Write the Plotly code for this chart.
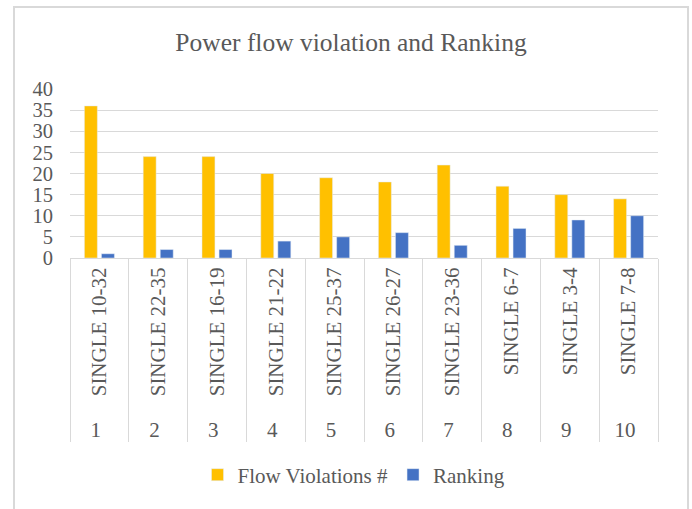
import plotly.graph_objects as go

ranks = ["1", "2", "3", "4", "5", "6", "7", "8", "9", "10"]
contingencies = ["SINGLE 10-32", "SINGLE 22-35", "SINGLE 16-19", "SINGLE 21-22", "SINGLE 25-37",
                 "SINGLE 26-27", "SINGLE 23-36", "SINGLE 6-7", "SINGLE 3-4", "SINGLE 7-8"]
flow_violations = [36, 24, 24, 20, 19, 18, 22, 17, 15, 14]
ranking = [1, 2, 2, 4, 5, 6, 3, 7, 9, 10]
y_ticks = [0, 5, 10, 15, 20, 25, 30, 35, 40]

FONT = "Liberation Serif"
GRAY = "#595959"

x = [ranks, contingencies]

fig = go.Figure()
fig.add_trace(go.Bar(x=x, y=flow_violations, name="Flow Violations #", marker_color="#FFC000"))
fig.add_trace(go.Bar(x=x, y=ranking, name="Ranking", marker_color="#4472C4"))

W, H = 692, 509
L, R, T, B = 70, 658, 89, 258
pw, ph = R - L, B - T

fig.update_layout(
    width=W, height=H,
    margin=dict(l=L, r=W - R, t=T, b=H - B),
    paper_bgcolor="white", plot_bgcolor="white",
    barmode="group", bargap=0.42, bargroupgap=0.24,
    font=dict(family=FONT, color=GRAY, size=21),
    title=dict(text="Power flow violation and Ranking", x=351 / W, xanchor="center",
               y=1 - 42 / H, yanchor="middle", font=dict(family=FONT, size=25.5, color=GRAY)),
    legend=dict(orientation="h", x=0.5 - 10 / pw, xanchor="center", y=(B - 475) / ph, yanchor="middle",
                font=dict(family=FONT, size=21, color=GRAY), itemwidth=30),
    showlegend=True,
)
fig.update_xaxes(
    type="multicategory", tickangle=-90,
    showline=True, linecolor="#d9d9d9", linewidth=1,
    showdividers=True, dividercolor="#d9d9d9", dividerwidth=1,
    ticks="", tickfont=dict(family=FONT, size=21, color=GRAY),
    showgrid=False,
)
fig.update_yaxes(
    range=[0, 40], tickvals=y_ticks, showgrid=True, gridcolor="#d9d9d9", gridwidth=1,
    zeroline=False, showline=False, ticks="", ticklabelstandoff=16,
    tickfont=dict(family=FONT, size=20.5, color=GRAY),
)
fig.add_shape(type="rect", xref="paper", yref="paper",
              x0=(14 - L) / pw, x1=(688 - L) / pw, y0=(B - 520) / ph, y1=(B - 7) / ph,
              line=dict(color="#d9d9d9", width=2), fillcolor="rgba(0,0,0,0)", layer="below")

fig.write_html("out.html", config={"displayModeBar": False},
               post_script="document.body.style.margin='0';")
